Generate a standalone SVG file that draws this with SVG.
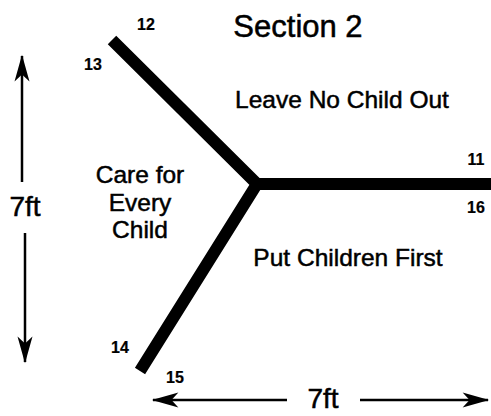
<svg xmlns="http://www.w3.org/2000/svg" width="491" height="416" viewBox="0 0 491 416">
<defs>
<style>
text{font-family:"Liberation Sans",Arial,sans-serif;fill:#000;stroke:#000;stroke-width:0.5}
.lbl{font-size:24.5px}
.big{font-size:28px}
.num{font-size:16px;font-weight:bold;stroke-width:0.2}
.arr{stroke:#000;stroke-width:2.5;fill:none;marker-end:url(#ah)}
.wall{stroke:#000;stroke-width:12;fill:none;stroke-linejoin:miter;stroke-linecap:butt}
</style>
<marker id="ah" markerUnits="userSpaceOnUse" markerWidth="30" markerHeight="20" viewBox="-24 -8 26 16" refX="0" refY="0" orient="auto">
<path d="M1,0 L-22,-6.5 L-16,0 L-22,6.5 Z" fill="#000"/>
</marker>
</defs>
<rect width="491" height="416" fill="#fff"/>
<g id="walls">
<polyline class="wall" points="112,40 257,184 140,371"/>
<line class="wall" x1="252" y1="184" x2="491" y2="184"/>
</g>
<g id="connectors">
<line class="arr" x1="22" y1="182" x2="22" y2="56"/>
<line class="arr" x1="25" y1="233" x2="25" y2="362"/>
<line class="arr" x1="287" y1="400" x2="153" y2="400"/>
<line class="arr" x1="360" y1="400" x2="488" y2="400"/>
</g>
<g id="title"><text x="298" y="37" text-anchor="middle" style="font-size:31px">Section 2</text></g>
<g id="leave"><text class="lbl" x="342" y="108" text-anchor="middle">Leave No Child Out</text></g>
<g id="care"><text class="lbl" text-anchor="middle"><tspan x="140" y="183">Care for</tspan><tspan x="140" y="211">Every</tspan><tspan x="140" y="238">Child</tspan></text></g>
<g id="put"><text class="lbl" x="348" y="266" text-anchor="middle">Put Children First</text></g>
<g id="dim-v"><text class="big" x="25" y="216" text-anchor="middle">7ft</text></g>
<g id="dim-h"><text class="big" x="323" y="408" text-anchor="middle">7ft</text></g>
<g id="numbers">
<text class="num" x="146" y="30" text-anchor="middle">12</text>
<text class="num" x="93" y="70" text-anchor="middle">13</text>
<text class="num" x="476" y="165" text-anchor="middle">11</text>
<text class="num" x="476" y="213" text-anchor="middle">16</text>
<text class="num" x="120" y="353" text-anchor="middle">14</text>
<text class="num" x="175" y="383" text-anchor="middle">15</text>
</g>
</svg>
